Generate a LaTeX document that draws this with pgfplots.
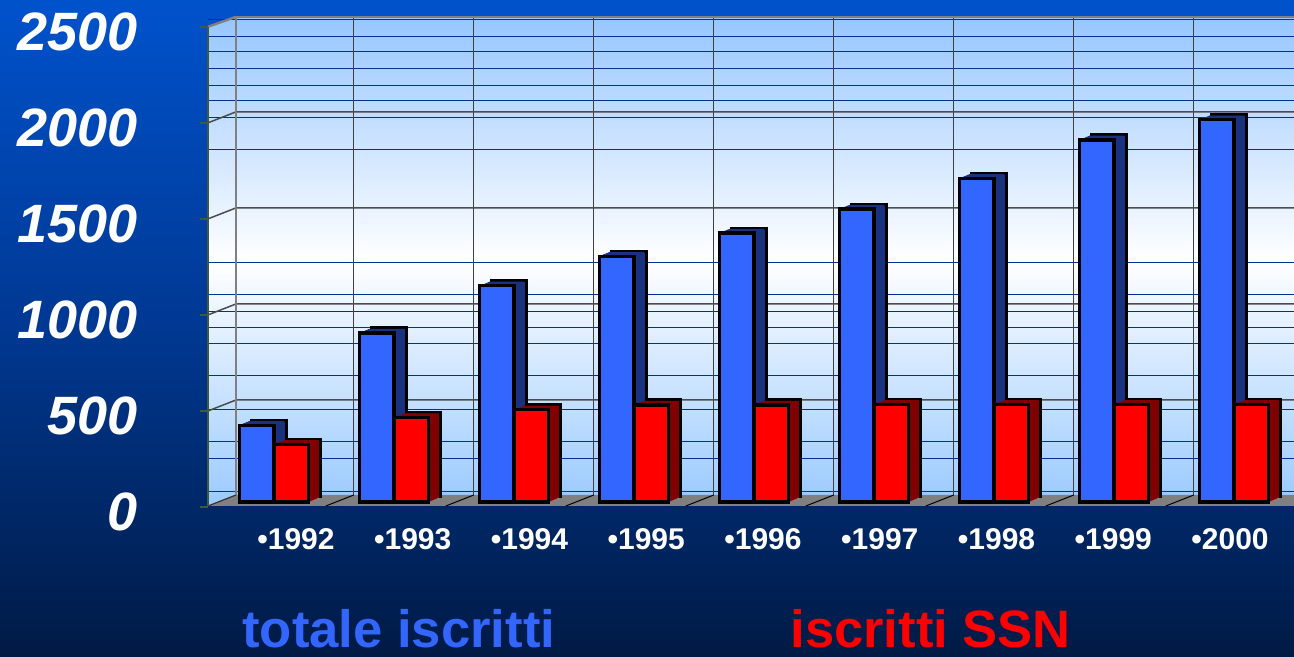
\documentclass[border=0pt]{standalone}
\usepackage{pgfplots}
\usepackage{pgfplotstable}
\pgfplotsset{compat=1.18}
\usepackage{fontspec}
\setmainfont{Liberation Sans}

\definecolor{bgtop}{RGB}{0,82,204}
\definecolor{bgmid}{RGB}{0,56,146}
\definecolor{bgbot}{RGB}{0,26,68}
\definecolor{walltop}{RGB}{150,198,255}
\definecolor{wallbot}{RGB}{155,202,255}
\definecolor{minorblue}{RGB}{0,50,150}
\definecolor{blueface}{RGB}{51,102,255}
\definecolor{blueside}{RGB}{24,50,128}
\definecolor{redface}{RGB}{255,0,0}
\definecolor{redside}{RGB}{128,0,0}
\definecolor{floorgrey}{RGB}{128,128,128}
\definecolor{frontedge}{RGB}{64,90,64}

\pgfplotstableread{
x tot ssn
0 400 300
1 880 440
2 1125 480
3 1280 505
4 1400 505
5 1525 508
6 1685 508
7 1885 508
8 1990 508
}\datatable

\begin{document}
\begin{tikzpicture}
\shade[top color=bgtop, bottom color=bgbot, middle color=bgmid] (0,0) rectangle (647pt,328.5pt);
\begin{axis}[
  at={(118pt,77.5pt)}, anchor=south west,
  scale only axis, width=529pt, height=242.6pt,
  xmin=-0.3167, xmax=8.5, ymin=0, ymax=2526,
  clip=false,
  axis line style={draw=none},
  major tick length=0pt, minor tick length=0pt,
  axis background/.style={top color=walltop, bottom color=wallbot, middle color=white},
  ytick={0,500,...,2500},
  /pgf/number format/assume math mode=true,
  /pgf/number format/1000 sep={},
  yticklabel style={font=\fontsize{27}{27}\selectfont\bfseries\itshape, text=white, anchor=east, inner sep=0pt, xshift=-49pt, yshift=-5pt},
  xtick={0.183,1.156,2.129,3.102,4.075,5.048,6.021,6.994,7.967},
  xticklabels={•1992,•1993,•1994,•1995,•1996,•1997,•1998,•1999,•2000},
  xticklabel style={font=\fontsize{15}{15}\selectfont\bfseries, text=white, anchor=center, inner sep=0pt, yshift=-18.5pt},
]
% left wall
\fill[top color=walltop, bottom color=wallbot, middle color=white]
  (axis cs:-0.55,2474) -- (axis cs:-0.3167,2526) -- (axis cs:-0.3167,36.5) -- (axis cs:-0.55,-20.8) -- cycle;
% minor blue lines
\pgfplotsinvokeforeach{2510,2422,2344,2255,2167,2089,2000,1833,1245,1078,990,911,823,656,479,313,224,57}{
  \draw[minorblue, line width=0.5pt] (axis cs:-0.55,#1) -- (axis cs:8.5,#1);
}
% vertical back-wall lines
\pgfplotsinvokeforeach{0.665,1.665,2.665,3.665,4.665,5.665,6.665,7.665}{
  \draw[black!75, line width=0.6pt] (axis cs:#1,36.5) -- (axis cs:#1,2526);
}
% major back-wall lines with diagonals on the side wall
\pgfplotsinvokeforeach{500,1000,1500,2000}{
  \draw[black!70, line width=0.75pt] (axis cs:-0.55,#1-26) -- (axis cs:-0.3167,#1+31) -- (axis cs:8.5,#1+31);
}
% floor
\fill[floorgrey] (axis cs:-0.3167,36.5) -- (axis cs:8.5,36.5) -- (axis cs:8.5,-20.8) -- (axis cs:-0.55,-20.8) -- cycle;
\draw[black!80, line width=0.6pt] (axis cs:-0.55,-20.8) -- (axis cs:-0.3167,36.5);
\pgfplotsinvokeforeach{0.665,1.665,2.665,3.665,4.665,5.665,6.665,7.665}{
  \draw[black, line width=0.5pt] (axis cs:#1,36.5) -- (axis cs:#1-0.233,-20.8);
}
% wall edges
\draw[floorgrey, line width=1.2pt] (axis cs:-0.3167,36.5) -- (axis cs:-0.3167,2526) -- (axis cs:8.5,2526);
\draw[floorgrey, line width=1.2pt] (axis cs:-0.55,2474) -- (axis cs:-0.3167,2526);
\draw[frontedge, line width=1.2pt] (axis cs:-0.55,-20.8) -- (axis cs:-0.55,2474);
\pgfplotsinvokeforeach{-26,474,974,1474,1974,2474}{
  \draw[frontedge, line width=0.8pt] (axis cs:-0.617,#1) -- (axis cs:-0.55,#1);
}

% blue bars (totale iscritti)
\addplot[ybar, bar width=0.29, bar shift=-0.145, fill=blueside, draw=black, line width=1.5pt, xshift=6pt, yshift=2.5pt, forget plot] table[x=x, y=tot] {\datatable};
\pgfplotsinvokeforeach{1,...,10}{
  \addplot[ybar, bar width=0.29, bar shift=-0.145, fill=blueside, draw=none, xshift=#1*0.5pt, yshift=#1*0.2083pt, forget plot] table[x=x, y=tot] {\datatable};
}
\addplot[ybar, bar width=0.29, bar shift=-0.145, fill=blueface, draw=black, line width=1.6pt, forget plot] table[x=x, y=tot] {\datatable};

% red bars (iscritti SSN)
\addplot[ybar, bar width=0.29, bar shift=0.145, fill=redside, draw=black, line width=1.5pt, xshift=6pt, yshift=2.5pt, forget plot] table[x=x, y=ssn] {\datatable};
\pgfplotsinvokeforeach{1,...,10}{
  \addplot[ybar, bar width=0.29, bar shift=0.145, fill=redside, draw=none, xshift=#1*0.5pt, yshift=#1*0.2083pt, forget plot] table[x=x, y=ssn] {\datatable};
}
\addplot[ybar, bar width=0.29, bar shift=0.145, fill=redface, draw=black, line width=1.6pt, forget plot] table[x=x, y=ssn] {\datatable};

% legend texts
\node[anchor=base west, inner sep=0pt, text=blueface, font=\fontsize{26.3}{26.3}\selectfont\bfseries] at (axis description cs:0.0057,-0.2991) {totale iscritti};
\node[anchor=base west, inner sep=0pt, text=redface, font=\fontsize{26.3}{26.3}\selectfont\bfseries] at (axis description cs:0.5236,-0.2991) {iscritti SSN};
\end{axis}
\pgfresetboundingbox
\useasboundingbox (0,0) rectangle (647pt,328.5pt);
\end{tikzpicture}
\end{document}
